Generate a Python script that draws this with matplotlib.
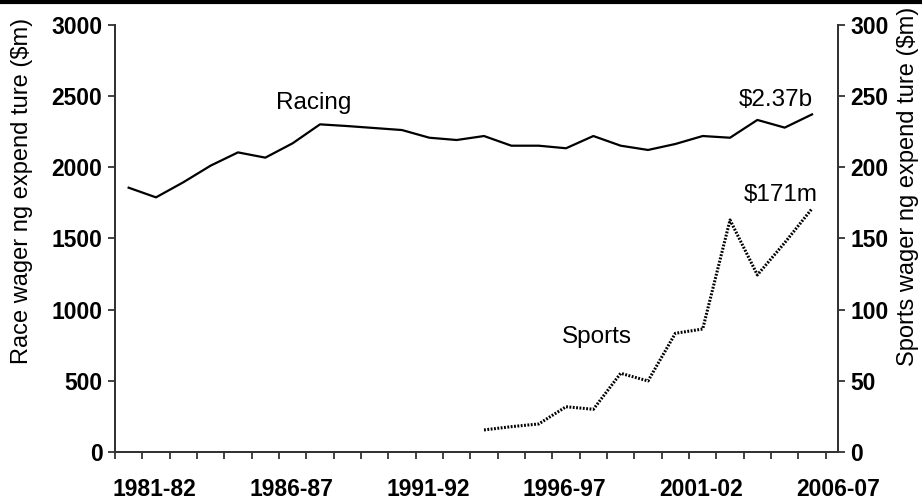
import numpy as np
import matplotlib
matplotlib.use("Agg")
import matplotlib.pyplot as plt
from matplotlib.lines import Line2D

plt.rcParams['font.family'] = ['Liberation Sans', 'DejaVu Sans']

# dados
anos = ["1981-82", "1982-83", "1983-84", "1984-85", "1985-86", "1986-87", "1987-88",
        "1988-89", "1989-90", "1990-91", "1991-92", "1992-93", "1993-94", "1994-95",
        "1995-96", "1996-97", "1997-98", "1998-99", "1999-00", "2000-01", "2001-02",
        "2002-03", "2003-04", "2004-05", "2005-06", "2006-07"]

corridas = [1857, 1789, 1895, 2012, 2105, 2068, 2169, 2302, 2290, 2276, 2262, 2208, 2192,
            2220, 2152, 2152, 2134, 2220, 2152, 2122, 2164, 2220, 2208, 2333, 2279, 2372]

# esportes so a partir de 1994-95
esportes_anos = anos[13:]
esportes = [15.5, 17.8, 19.7, 31.8, 30, 55.3, 49.9, 83.4, 86.4, 163, 124.4, 147, 171]

rotulos = ["1981-82", "1986-87", "1991-92", "1996-97", "2001-02", "2006-07"]

x = np.arange(len(anos))
x_esp = np.array([anos.index(a) for a in esportes_anos])
pos_rot = np.array([anos.index(r) for r in rotulos]) + 0.95

fig = plt.figure(figsize=(9.22, 5.03), dpi=100)
ax = fig.add_axes([0.1247, 0.1014, 0.7842, 0.8489])
ax2 = ax.twinx()

ax.plot(x, corridas, color='black', linewidth=1.6)
ax2.plot(x_esp, esportes, color='black', linewidth=2.2, linestyle=(0, (0.6, 0.5)))

ax.set_xlim(-0.5, len(anos) - 0.5)
ax.set_ylim(0, 3000)
ax2.set_ylim(0, 300)

ax.set_yticks(np.arange(0, 3001, 500))
ax2.set_yticks(np.arange(0, 301, 50))

ax.set_xticks(pos_rot)
ax.set_xticklabels(rotulos)
ax.set_xticks(np.arange(-0.5, len(anos), 1), minor=True)
ax.tick_params(axis='x', which='major', length=0, pad=19, labelsize=16.5)
ax.tick_params(axis='x', which='minor', length=5, width=1.3, direction='out', color='#333333')
ax.tick_params(axis='y', length=5, width=1.3, pad=4, labelsize=16.5, color='#333333')
ax2.tick_params(axis='y', length=5, width=1.3, pad=4, labelsize=16.5, color='#333333')

for t in ax.get_xticklabels() + ax.get_yticklabels() + ax2.get_yticklabels():
    t.set_fontweight('bold')

for a in (ax, ax2):
    a.spines['top'].set_visible(False)
    for s in ('left', 'right', 'bottom'):
        a.spines[s].set_linewidth(1.4)
        a.spines[s].set_color('#333333')

fig.text(0.024, 0.62, "Race wager ng expend ture ($m)", rotation=90,
         ha='center', va='center', fontsize=17)
fig.text(0.985, 0.63, "Sports wager ng expend ture ($m)", rotation=90,
         ha='center', va='center', fontsize=17)

# rotulos no grafico
ax.text(6.76, 2452, "Racing", fontsize=17.5, ha='center', va='center')
ax.text(23.67, 2473, "$2.37b", fontsize=17.5, ha='center', va='center')
ax2.text(23.85, 180.6, "$171m", fontsize=17.5, ha='center', va='center')
ax2.text(17.12, 80.8, "Sports", fontsize=17.5, ha='center', va='center')

# linha no topo
fig.add_artist(Line2D([0, 1], [0.996, 0.996], transform=fig.transFigure,
                      color='black', linewidth=3))

fig.savefig("out.png", dpi=100)
